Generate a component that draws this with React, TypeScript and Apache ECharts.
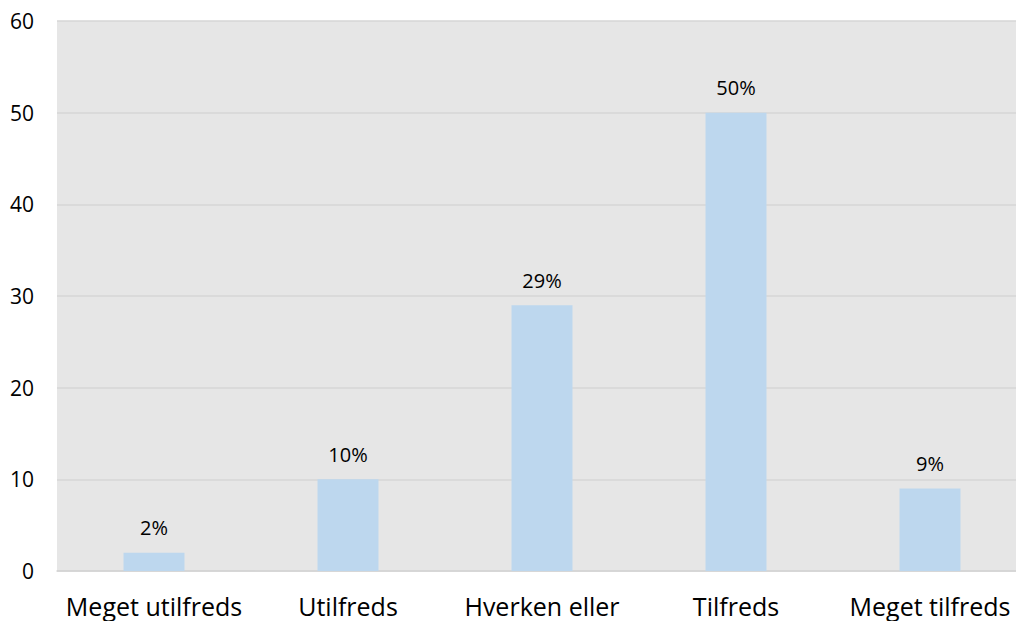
import React, { useEffect, useRef } from "react";
import * as echarts from "echarts";

const categories = ["Meget utilfreds", "Utilfreds", "Hverken eller", "Tilfreds", "Meget tilfreds"];
const values = [2, 10, 29, 50, 9];
const yTicks = { min: 0, max: 60, interval: 10 };

export default function App() {
  const ref = useRef<HTMLDivElement>(null);
  useEffect(() => {
    if (!ref.current) return;
    const chart = echarts.init(ref.current, null, { renderer: "svg" });
    const font = "'Open Sans', 'Noto Sans', sans-serif";
    chart.setOption({
      animation: false,
      backgroundColor: "#ffffff",
      grid: {
        left: 57,
        right: -11,
        top: 21,
        bottom: 50,
        outerBoundsMode: "none",
        containLabel: false,
        show: true,
        backgroundColor: "#e6e6e6",
        borderWidth: 0,
      },
      xAxis: {
        type: "category",
        data: categories,
        axisLine: { show: true, lineStyle: { color: "#d4d4d4", width: 1.5 } },
        axisTick: { show: false },
        axisLabel: { color: "#000", fontSize: 25, fontFamily: font, margin: 22, interval: 0 },
      },
      yAxis: {
        type: "value",
        min: yTicks.min,
        max: yTicks.max,
        interval: yTicks.interval,
        axisLine: { show: false },
        axisTick: { show: false },
        splitLine: { lineStyle: { color: "#d6d6d6", width: 1.5 } },
        axisLabel: { color: "#000", fontSize: 21, fontFamily: font, margin: 23 },
      },
      series: [
        {
          type: "bar",
          data: values,
          barWidth: 61,
          itemStyle: { color: "#bdd7ee" },
          label: {
            show: true,
            position: "top",
            distance: 15,
            formatter: "{c}%",
            color: "#000",
            fontSize: 20,
            fontFamily: font,
          },
        },
      ],
    });
    return () => chart.dispose();
  }, []);
  return (
    <div
      ref={ref}
      style={{ position: "fixed", left: 0, top: 0, width: 1016, height: 621 }}
    />
  );
}
